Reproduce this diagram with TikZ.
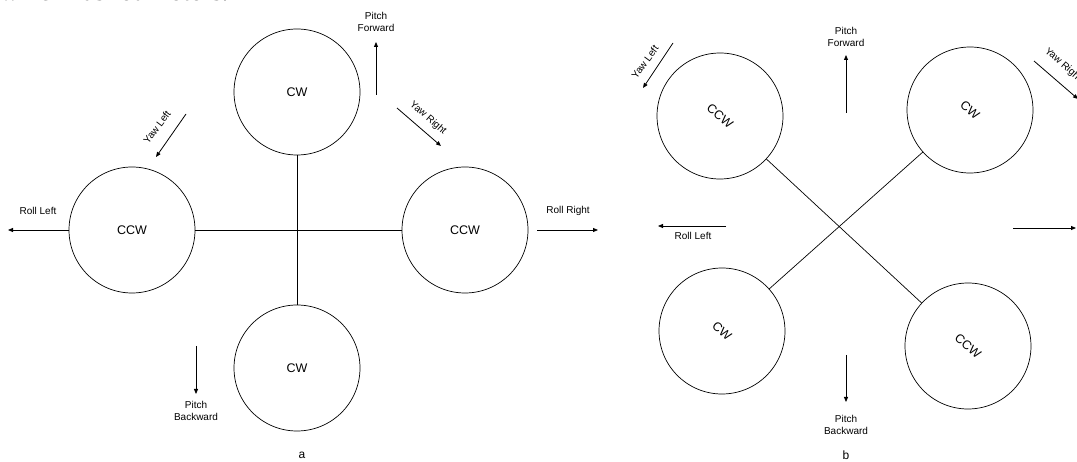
\documentclass[tikz,border=0pt]{standalone}
\usepackage{fontspec}
\setmainfont{Liberation Sans}
\newfontfamily\serifface{Liberation Serif}
\usetikzlibrary{arrows.meta}
\begin{document}
\begin{tikzpicture}[x=1pt,y=-1pt,
  rotor/.style={circle,draw,line width=0.7pt,minimum size=126pt,inner sep=0pt,font=\fontsize{12.5}{14}\selectfont},
  arm/.style={line width=0.7pt},
  mv/.style={line width=0.8pt,-{Triangle[length=5pt,width=4pt]}},
  lbl/.style={font=\fontsize{10}{11.5}\selectfont,align=center,inner sep=0pt},
  subcap/.style={font=\fontsize{12}{14}\selectfont,inner sep=0pt}]
\useasboundingbox (0,0) rectangle (1077,462);
% cut-off caption text
\begin{scope}
\clip (0,0) rectangle (1077,462);
\node[anchor=base west,inner sep=0pt,font=\serifface\fontsize{26}{30}\selectfont] (top) at (0,1) {which has four rotors.};
\end{scope}
% ---------- a ----------
\node[rotor] (aT) at (297,92) {CW};
\node[rotor] (aL) at (132,230) {CCW};
\node[rotor] (aR) at (465,230) {CCW};
\node[rotor] (aB) at (297,368) {CW};
\draw[arm] (aT) -- (aB);
\draw[arm] (aL) -- (aR);
\coordinate (rl) at (8,230);
\draw[mv] (aL.west) -- (rl);
\node[lbl] (rlt) at (38,211) {Roll Left};
\coordinate (rr1) at (537,230); \coordinate (rr2) at (598,230);
\draw[mv] (rr1) -- (rr2);
\node[lbl] (rrt) at (568,211) {Roll Right};
\coordinate (pf1) at (376,95); \coordinate (pf2) at (376,42);
\draw[mv] (pf1) -- (pf2);
\node[lbl] (pft) at (376,22) {Pitch\\Forward};
\coordinate (yr1) at (397,108); \coordinate (yr2) at (441,146);
\draw[mv] (yr1) -- (yr2);
\node[lbl,rotate=-41] (yrt) at (428,118) {Yaw Right};
\coordinate (yl1) at (186,114); \coordinate (yl2) at (156,157);
\draw[mv] (yl1) -- (yl2);
\node[lbl,rotate=53] (ylt) at (157,127) {Yaw Left};
\coordinate (pb1) at (196,346); \coordinate (pb2) at (196,394);
\draw[mv] (pb1) -- (pb2);
\node[lbl] (pbt) at (196,411) {Pitch\\Backward};
\node[subcap] (ca) at (302,455) {a};
% ---------- b ----------
\node[rotor,rotate=-40] (bTL) at (720,116) {CCW};
\node[rotor,rotate=-40] (bTR) at (970,110) {CW};
\node[rotor,rotate=-40] (bBL) at (722,331) {CW};
\node[rotor,rotate=-40] (bBR) at (968,346) {CCW};
\draw[arm] (bTL) -- (bBR);
\draw[arm] (bTR) -- (bBL);
\coordinate (bpf1) at (846,113); \coordinate (bpf2) at (846,55);
\draw[mv] (bpf1) -- (bpf2);
\node[lbl] (bpft) at (846,37) {Pitch\\Forward};
\coordinate (byl1) at (673,43); \coordinate (byl2) at (643,88);
\draw[mv] (byl1) -- (byl2);
\node[lbl,rotate=54] (bylt) at (645,62) {Yaw Left};
\coordinate (byr1) at (1034,61); \coordinate (byr2) at (1078,99);
\draw[mv] (byr1) -- (byr2);
\node[lbl,rotate=-41,anchor=west] (byrt) at (1046,50) {Yaw Right};
\coordinate (brl1) at (726,226); \coordinate (brl2) at (658,226);
\draw[mv] (brl1) -- (brl2);
\node[lbl] (brlt) at (693,236) {Roll Left};
\coordinate (brr1) at (1013,228); \coordinate (brr2) at (1076,228);
\draw[mv] (brr1) -- (brr2);
\coordinate (bpb1) at (846,355); \coordinate (bpb2) at (846,402);
\draw[mv] (bpb1) -- (bpb2);
\node[lbl] (bpbt) at (846,425) {Pitch\\Backward};
\node[subcap] (cb) at (846,455) {b};
\end{tikzpicture}
\end{document}
